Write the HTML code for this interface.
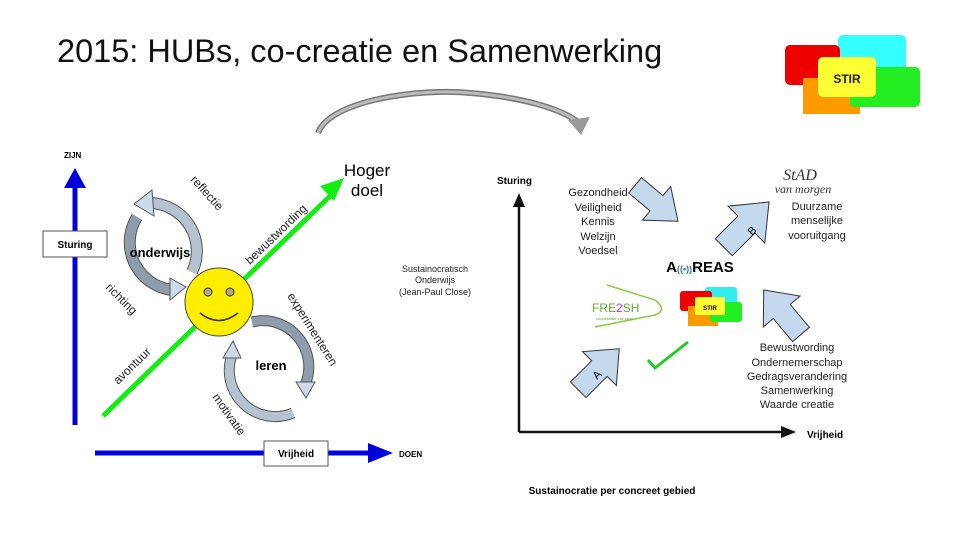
<!DOCTYPE html>
<html><head><meta charset="utf-8"><style>
body{margin:0;background:#fff;}
svg{display:block;font-family:"Liberation Sans",sans-serif;}
</style></head><body>
<svg width="960" height="540" viewBox="0 0 960 540">
<text x="57" y="62" font-size="32.5" fill="#111">2015:  HUBs, co-creatie en Samenwerking</text>
<!-- STIR logo top -->
<rect x="838" y="35" width="68" height="42" rx="5" fill="#3ff"/>
<rect x="785" y="45" width="55" height="40" rx="5" fill="#e00"/>
<rect x="803" y="78" width="57" height="36" fill="#f90"/>
<rect x="850" y="67" width="70" height="40" rx="5" fill="#2e2"/>
<rect x="818" y="57" width="58" height="40" rx="5" fill="#ff3"/>
<text x="847" y="83" font-size="12" font-weight="bold" text-anchor="middle" fill="#222">STIR</text>
<!-- curved arrow -->
<path d="M318 133 C330 100 420 88 470 93 C520 97 560 108 578 122" fill="none" stroke="#777" stroke-width="6"/>
<path d="M318 133 C330 100 420 88 470 93 C520 97 560 108 578 122" fill="none" stroke="#bbb" stroke-width="3"/>
<polygon points="568,120 590,117 581,135" fill="#999"/>

<!-- left diagram -->
<line x1="75" y1="425" x2="75" y2="185" stroke="#00d" stroke-width="5"/>
<polygon points="64,188 86,188 75,168" fill="#00d"/>
<text x="64" y="158" font-size="8" font-weight="bold">ZIJN</text>
<rect x="43" y="231" width="64" height="26" fill="#fff" stroke="#555"/>
<text x="75" y="248" font-size="10" font-weight="bold" text-anchor="middle">Sturing</text>
<line x1="95" y1="453" x2="370" y2="453" stroke="#00d" stroke-width="5"/>
<polygon points="368,443 368,463 393,453" fill="#00d"/>
<text x="399" y="457" font-size="8" font-weight="bold">DOEN</text>
<rect x="264" y="441" width="64" height="25" fill="#fff" stroke="#555"/>
<text x="296" y="457" font-size="10" font-weight="bold" text-anchor="middle">Vrijheid</text>
<line x1="103" y1="416" x2="330" y2="196" stroke="#1e1" stroke-width="5"/>
<polygon points="320,186 344,178 334,201" fill="#1e1"/>
<text x="367" y="176" font-size="17" text-anchor="middle">Hoger</text>
<text x="367" y="196" font-size="17" text-anchor="middle">doel</text>
<g fill="none" stroke-linecap="butt">
<path d="M192 272 A48 48 0 0 0 150 203" stroke="#555" stroke-width="12"/>
<path d="M192 272 A48 48 0 0 0 150 203" stroke="#b5c3d0" stroke-width="10"/>
<path d="M137 217 A48 48 0 0 0 172 290" stroke="#555" stroke-width="12"/>
<path d="M137 217 A48 48 0 0 0 172 290" stroke="#8e9cab" stroke-width="10"/>
<path d="M252 322 A46 46 0 0 1 305 385" stroke="#555" stroke-width="11"/>
<path d="M252 322 A46 46 0 0 1 305 385" stroke="#8e9cab" stroke-width="9"/>
<path d="M293 413 A46 46 0 0 1 232 355" stroke="#555" stroke-width="11"/>
<path d="M293 413 A46 46 0 0 1 232 355" stroke="#b5c3d0" stroke-width="9"/>
</g>
<g fill="#cddbe9" stroke="#556" stroke-width="1">
<polygon points="152,190 134,204 154,216"/>
<polygon points="170,278 186,287 170,300"/>
<polygon points="296,382 315,382 306,398"/>
<polygon points="223,358 241,358 233,341"/>
</g>
<circle cx="219" cy="302" r="34" fill="#fe0" stroke="#444"/>
<circle cx="208" cy="292" r="4" fill="#aa8" stroke="#333"/>
<circle cx="230" cy="292" r="4" fill="#aa8" stroke="#333"/>
<path d="M200 313 Q219 328 238 313" fill="none" stroke="#333" stroke-width="1.5"/>
<text x="160" y="257" font-size="13" font-weight="bold" text-anchor="middle">onderwijs</text>
<text x="271" y="370" font-size="13" font-weight="bold" text-anchor="middle">leren</text>
<g font-size="12" fill="#222">
<text transform="translate(190 180) rotate(48)">reflectie</text>
<text transform="translate(105 288) rotate(45)">richting</text>
<text transform="translate(250 265) rotate(-44)">bewustwording</text>
<text transform="translate(118 385) rotate(-44)">avontuur</text>
<text transform="translate(287 296) rotate(58)">experimenteren</text>
<text transform="translate(212 397) rotate(55)">motivatie</text>
</g>
<g font-size="9" text-anchor="middle" fill="#222">
<text x="435" y="272">Sustainocratisch</text>
<text x="435" y="283">Onderwijs</text>
<text x="435" y="295">(Jean-Paul Close)</text>
</g>

<!-- right diagram -->
<line x1="519" y1="432" x2="519" y2="205" stroke="#111" stroke-width="2.5"/>
<polygon points="513,207 525,207 519,193" fill="#111"/>
<line x1="519" y1="432" x2="783" y2="432" stroke="#111" stroke-width="2.5"/>
<polygon points="781,426 781,438 796,432" fill="#111"/>
<text x="497" y="184" font-size="10" font-weight="bold">Sturing</text>
<text x="807" y="438" font-size="10" font-weight="bold">Vrijheid</text>
<g font-size="11" text-anchor="middle" fill="#222">
<text x="598" y="196">Gezondheid</text><text x="598" y="211">Veiligheid</text><text x="598" y="225">Kennis</text><text x="598" y="240">Welzijn</text><text x="598" y="254">Voedsel</text>
<text x="817" y="210">Duurzame</text><text x="817" y="224">menselijke</text><text x="817" y="239">vooruitgang</text>
<text x="797" y="351">Bewustwording</text><text x="797" y="366">Ondernemerschap</text><text x="797" y="380">Gedragsverandering</text><text x="797" y="394">Samenwerking</text><text x="797" y="408">Waarde creatie</text>
</g>
<g fill="#c5d9ee" stroke="#333" stroke-width="1">
<polygon points="-26,-10 2,-10 2,-22 30,0 2,22 2,10 -26,10" transform="translate(655 202) rotate(40)"/>
<polygon points="-30,-12 2,-12 2,-26 34,0 2,26 2,12 -30,12" transform="translate(745 226) rotate(-45)"/>
<polygon points="-28,-11 2,-11 2,-24 30,0 2,24 2,11 -28,11" transform="translate(598 370) rotate(-45)"/>
<polygon points="-28,-11 2,-11 2,-24 30,0 2,24 2,11 -28,11" transform="translate(783 313) rotate(-130)"/>
</g>
<text transform="translate(752 236) rotate(-45)" font-size="11">B</text>
<text transform="translate(597 380) rotate(-45)" font-size="11">A</text>
<text x="700" y="272" font-size="15" font-weight="bold" text-anchor="middle">A<tspan fill="#37a" font-size="9">((•))</tspan>REAS</text>
<rect x="705" y="287" width="32" height="20" rx="3" fill="#3ee"/>
<rect x="680" y="291" width="32" height="20" rx="3" fill="#e00"/>
<rect x="688" y="306" width="30" height="20" fill="#f90"/>
<rect x="710" y="302" width="32" height="20" rx="3" fill="#2e2"/>
<rect x="695" y="297" width="30" height="18" rx="2" fill="#ff3"/>
<text x="710" y="310" font-size="6" font-weight="bold" text-anchor="middle">STIR</text>
<path d="M607 285 L655 300 Q668 310 655 315 L595 327" fill="none" stroke="#8c4" stroke-width="1.5"/>
<text x="592" y="312" font-size="12" fill="#6a3">FRE<tspan fill="#c3c">2</tspan>SH</text>
<text x="596" y="320" font-size="4" fill="#6a3">cooperative city farm</text>
<path d="M648 360 L655 368 L688 342" fill="none" stroke="#2c2" stroke-width="3"/>
<text x="800" y="180" font-size="16" font-family="Liberation Serif,serif" font-style="italic" text-anchor="middle" fill="#333">StAD</text>
<text x="803" y="193" font-size="12" font-family="Liberation Serif,serif" font-style="italic" text-anchor="middle" fill="#333">van morgen</text>
<text x="612" y="494" font-size="10" font-weight="bold" text-anchor="middle">Sustainocratie per concreet gebied</text>
</svg>
</body></html>
